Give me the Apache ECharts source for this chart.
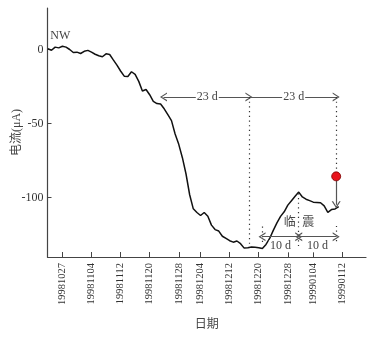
<!DOCTYPE html>
<html>
<head>
    <meta charset="UTF-8">
    <title>电流曲线</title>
    <script src="https://cdn.jsdelivr.net/npm/echarts@6/dist/echarts.min.js"></script>
</head>
<body style="margin:0">
    <div id="main" style="width: 368px; height: 338px;"></div>
    <script>
        // 日期(逐日)
        var dates = [
            '19981023', '19981024', '19981025', '19981026', '19981027', '19981028', '19981029', '19981030', '19981031',
            '19981101', '19981102', '19981103', '19981104', '19981105', '19981106', '19981107', '19981108', '19981109', '19981110',
            '19981111', '19981112', '19981113', '19981114', '19981115', '19981116', '19981117', '19981118', '19981119', '19981120',
            '19981121', '19981122', '19981123', '19981124', '19981125', '19981126', '19981127', '19981128', '19981129', '19981130',
            '19981201', '19981202', '19981203', '19981204', '19981205', '19981206', '19981207', '19981208', '19981209', '19981210',
            '19981211', '19981212', '19981213', '19981214', '19981215', '19981216', '19981217', '19981218', '19981219', '19981220',
            '19981221', '19981222', '19981223', '19981224', '19981225', '19981226', '19981227', '19981228', '19981229', '19981230',
            '19981231', '19990101', '19990102', '19990103', '19990104', '19990105', '19990106', '19990107', '19990108', '19990109',
            '19990110', '19990111'
        ];
        // 电流值 (μA)
        var current = [
            0.5, -0.5, 1.6, 1.1, 2.2, 1.6, 0, -2, -1.8,
            -2.7, -1.2, -0.6, -1.8, -3.2, -4.2, -4.9, -2.9, -3.4, -7,
            -10.5, -14.5, -18, -18.2, -15, -16.8, -21.5, -28, -27, -30.5,
            -35, -36.5, -36.8, -40, -44, -48, -57, -64, -73, -84,
            -98, -107.5, -110, -112, -110, -112.5, -118.5, -121.5, -122.5, -126,
            -127.5, -129, -130, -129.2, -131, -134, -133.8, -133.2, -133.5, -133.8,
            -134.3, -131.5, -127.5, -122, -117, -112.6, -109.5, -105, -102, -99,
            -96.2, -99.5, -101, -102, -103, -103.2, -103.4, -105.5, -109.9, -108,
            -107.6, -106
        ];
        // x轴刻度标签
        var tickDates = ['19981027', '19981104', '19981112', '19981120', '19981128', '19981204',
            '19981212', '19981220', '19981228', '19990104', '19990112'];
        var yTicks = [0, -50, -100];

        // 标注位置(距19981027的天数)
        var arrowDays = [27.8, 51.3, 75.3];   // 23 d
        var nearDays = [54.9, 65, 75.3];      // 10 d
        var arrowLevel = -32;
        var nearLevel = -126.3;
        var eventValue = -85.6;

        var base = Date.UTC(1998, 9, 27);
        function toDay(s) {
            var t = Date.UTC(+s.slice(0, 4), +s.slice(4, 6) - 1, +s.slice(6, 8));
            return Math.round((t - base) / 86400000);
        }
        var dayToLabel = {};
        tickDates.forEach(function (s) { dayToLabel[toDay(s)] = s; });
        var seriesData = dates.map(function (s, i) { return [toDay(s), current[i]]; });

        var font = "'Liberation Serif', 'Noto Sans CJK SC', serif";
        var chev = 'path://M5,0 L10,10 L8.4,10 L5,2.8 L1.6,10 L0,10 Z';
        var grey = '#555';

        function arrowLine(x1, y1, x2, y2, s1, s2) {
            return [
                { coord: [x1, y1], symbol: s1 ? chev : 'none', symbolSize: [9, 7] },
                { coord: [x2, y2], symbol: s2 ? chev : 'none', symbolSize: [9, 7] }
            ];
        }
        function dotLine(x, y1, y2) {
            return [
                { coord: [x, y1], symbol: 'none', lineStyle: { type: [1.2, 3.5], color: '#333', width: 1.2 } },
                { coord: [x, y2], symbol: 'none', lineStyle: { type: [1.2, 3.5], color: '#333', width: 1.2 } }
            ];
        }
        function textAt(x, y, txt, bg, size) {
            return {
                coord: [x, y], symbol: 'circle', symbolSize: 0,
                label: {
                    show: true, position: 'inside', formatter: txt, color: '#444',
                    fontFamily: font, fontSize: size || 12,
                    backgroundColor: bg || 'transparent', padding: bg ? [0, 1] : 0
                }
            };
        }

        var myChart = echarts.init(document.getElementById('main'));
        var option = {
            animation: false,
            grid: { left: 47.5, right: 2, top: 8, bottom: 81, outerBoundsMode: 'none', containLabel: false },
            xAxis: {
                type: 'value',
                min: -4.1,
                max: 83.5,
                name: '日期',
                nameLocation: 'middle',
                nameGap: 62,
                nameMoveOverlap: false,
                nameTextStyle: { fontFamily: font, fontSize: 12, color: '#444' },
                splitLine: { show: false },
                axisLine: { onZero: false, lineStyle: { color: '#444', width: 1.2 } },
                axisTick: {
                    inside: true, length: 5, lineStyle: { color: '#444' },
                    customValues: tickDates.map(toDay)
                },
                axisLabel: {
                    rotate: 90, margin: 6, fontFamily: font, fontSize: 10.5, color: '#333',
                    customValues: tickDates.map(toDay),
                    formatter: function (v) { return dayToLabel[Math.round(v)] || ''; }
                }
            },
            yAxis: {
                type: 'value',
                min: -140,
                max: 28,
                name: '电流(μA)',
                nameLocation: 'middle',
                nameGap: 25,
                nameMoveOverlap: false,
                nameTextStyle: { fontFamily: font, fontSize: 12, color: '#444' },
                splitLine: { show: false },
                axisLine: { onZero: false, lineStyle: { color: '#444', width: 1.2 } },
                axisTick: {
                    inside: true, length: 4, lineStyle: { color: '#444' },
                    customValues: yTicks
                },
                axisLabel: {
                    margin: 4, fontFamily: font, fontSize: 12, color: '#333',
                    customValues: yTicks
                }
            },
            series: [{
                type: 'line',
                data: seriesData,
                symbol: 'none',
                lineStyle: { color: '#111', width: 1.5 },
                markLine: {
                    silent: true,
                    symbol: ['none', 'none'],
                    label: { show: false },
                    lineStyle: { color: grey, width: 1.2, type: 'solid' },
                    data: [
                        arrowLine(arrowDays[0], arrowLevel, arrowDays[1], arrowLevel, true, true),
                        arrowLine(arrowDays[1], arrowLevel, arrowDays[2], arrowLevel, false, true),
                        dotLine(arrowDays[1], arrowLevel, -131),
                        dotLine(arrowDays[2], arrowLevel, eventValue),
                        arrowLine(arrowDays[2], eventValue, arrowDays[2], -104.8, false, true),
                        dotLine(nearDays[0], -119.5, -132),
                        dotLine(nearDays[1], -97, -132.5),
                        dotLine(nearDays[2], -119, -130.5),
                        arrowLine(nearDays[0], nearLevel, nearDays[1], nearLevel, true, true),
                        arrowLine(nearDays[1], nearLevel, nearDays[2], nearLevel, true, true)
                    ]
                },
                markPoint: {
                    silent: true,
                    data: [
                        textAt(-0.6, 9.5, 'NW'),
                        textAt((arrowDays[0] + arrowDays[1]) / 2 + 0.3, arrowLevel, '23 d', '#fff'),
                        textAt((arrowDays[1] + arrowDays[2]) / 2 + 0.3, arrowLevel, '23 d', '#fff'),
                        textAt(62.5, -117.2, '临'),
                        textAt(67.6, -117.2, '震'),
                        textAt((nearDays[0] + nearDays[1]) / 2, -132.8, '10 d', '#fff'),
                        textAt((nearDays[1] + nearDays[2]) / 2, -132.8, '10 d', '#fff'),
                        {
                            coord: [arrowDays[2], eventValue], symbol: 'circle', symbolSize: 9,
                            itemStyle: { color: '#e8141c', borderColor: '#7a0000', borderWidth: 0.8 },
                            label: { show: false }
                        }
                    ]
                }
            }]
        };
        myChart.setOption(option);
    </script>
</body>
</html>
